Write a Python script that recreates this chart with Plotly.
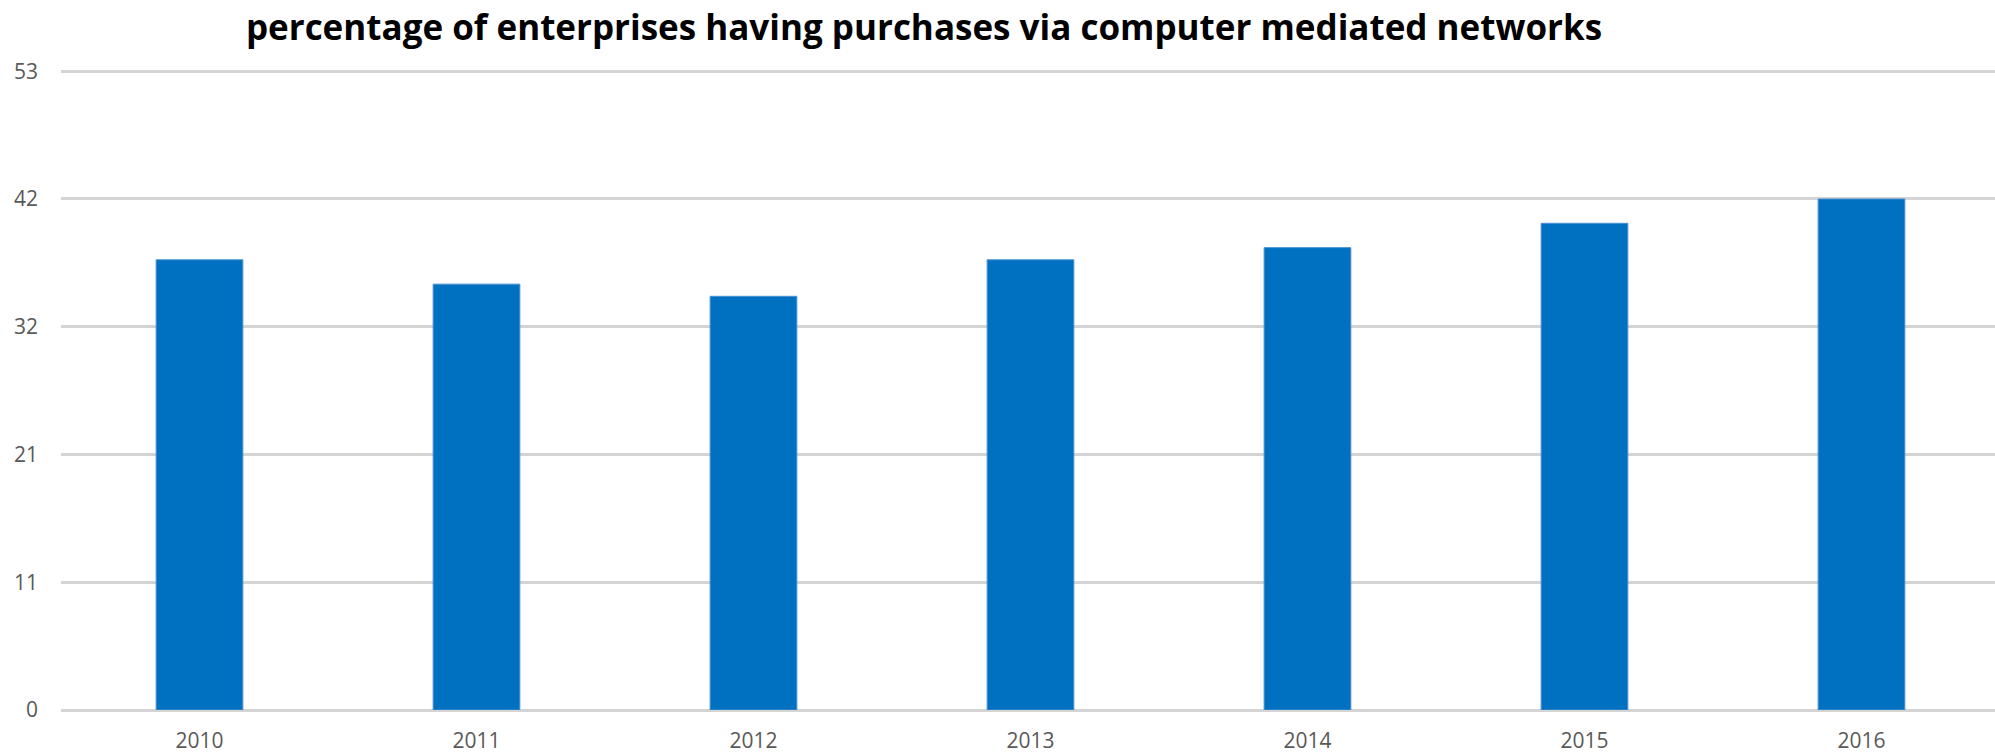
import plotly.graph_objects as go

years = ["2010", "2011", "2012", "2013", "2014", "2015", "2016"]
values = [37, 35, 34, 37, 38, 40, 42]
y_tick_vals = [0, 10.5, 21, 31.5, 42, 52.5]
y_tick_text = ["0", "11", "21", "32", "42", "53"]
title_text = "percentage of enterprises having purchases via computer mediated networks"

fig = go.Figure(
    go.Bar(
        x=years,
        y=values,
        marker=dict(color="#0070C0", line=dict(color="#4a90d0", width=1)),
        hoverinfo="x+y",
    )
)

fig.update_layout(
    width=1995,
    height=756,
    margin=dict(l=61, r=0, t=70, b=46),
    paper_bgcolor="white",
    plot_bgcolor="white",
    bargap=0.687,
    showlegend=False,
    title=dict(
        text="<b>" + title_text + "</b>",
        font=dict(family="Open Sans", size=35, color="black"),
        xref="container",
        yref="container",
        x=924 / 1995,
        xanchor="center",
        y=1 - 28 / 756,
        yanchor="middle",
    ),
    font=dict(family="Open Sans", color="#595959"),
)

fig.update_xaxes(
    type="category",
    range=[-0.5, 6.482],
    showgrid=False,
    showline=False,
    zeroline=False,
    ticks="",
    tickfont=dict(family="Open Sans", size=21, color="#595959"),
    ticklabelstandoff=16,
)

fig.update_yaxes(
    range=[0, 52.6],
    tickvals=y_tick_vals,
    ticktext=y_tick_text,
    showgrid=True,
    gridcolor="#d4d4d4",
    gridwidth=2.5,
    zeroline=True,
    zerolinecolor="#d4d4d4",
    zerolinewidth=2.5,
    showline=False,
    ticks="",
    tickfont=dict(family="Open Sans", size=21, color="#595959"),
    ticklabelstandoff=22,
)

fig.write_html("out.html")
